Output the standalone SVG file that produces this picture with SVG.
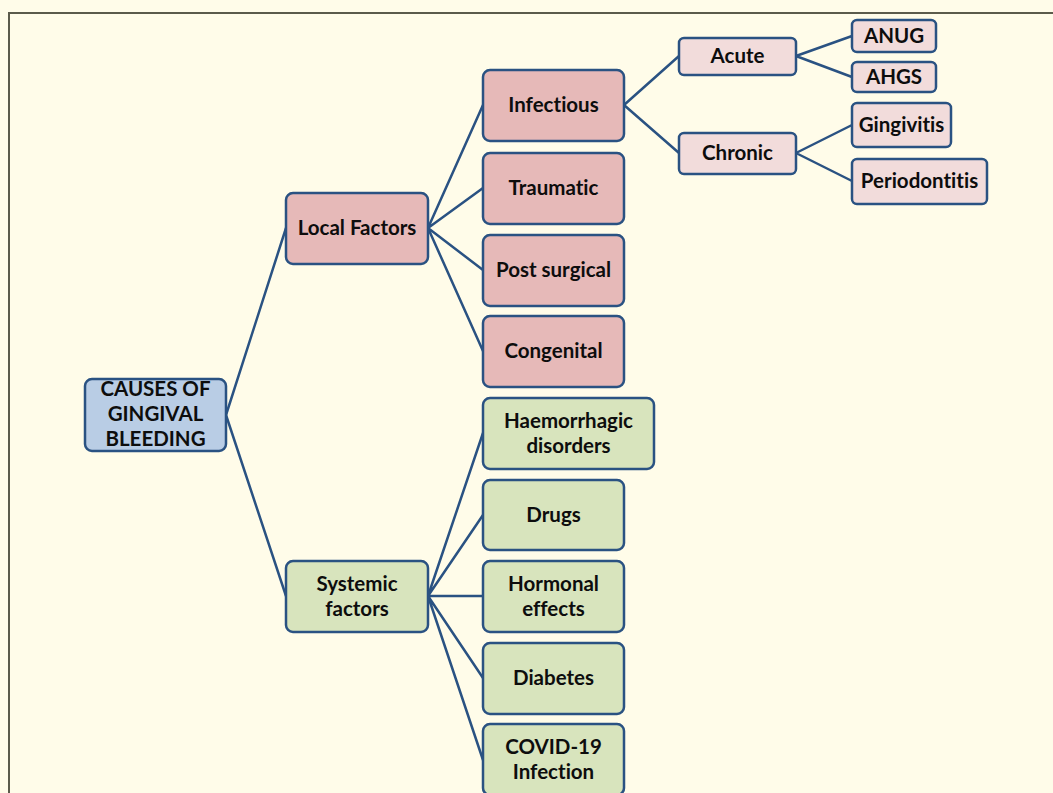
<svg xmlns="http://www.w3.org/2000/svg" width="1053" height="793" viewBox="0 0 1053 793">
<style>
.n rect{stroke:#2a5282;stroke-width:2.5}
.pink rect{fill:#e6b9b8}
.lpink rect{fill:#f2dcdb}
.green rect{fill:#d8e4bd}
.blue rect{fill:#b9cde5}
text{font-family:Lato,"Liberation Sans",sans-serif;font-weight:bold;font-size:20.5px;fill:#0d0d0d;text-anchor:middle;font-variant-ligatures:none;font-feature-settings:"liga" 0}
#connectors path{stroke:#2a5282;stroke-width:2.5;fill:none}
</style>
<rect x="0" y="0" width="1053" height="793" fill="#fffce9"/>
<path d="M9,793 V13 H1053" fill="none" stroke="#5b5b4b" stroke-width="2"/>
<g id="connectors">
<path d="M226,415 L286,228 M226,415 L286,596"/>
<path d="M428,228 L483,105 M428,228 L483,188 M428,228 L483,270 M428,228 L483,351"/>
<path d="M428,596 L483,433 M428,596 L483,515 M428,596 L483,596 M428,596 L483,678 M428,596 L483,760"/>
<path d="M624,105 L679,56 M624,105 L679,153"/>
<path d="M796,56 L852,36 M796,56 L852,77"/>
<path d="M796,153 L852,125 M796,153 L852,181"/>
</g>
<g id="root" class="n blue"><rect x="85" y="379" width="141" height="72" rx="7"/>
<text x="155.5" y="396">CAUSES OF</text><text x="155.5" y="421">GINGIVAL</text><text x="155.5" y="446">BLEEDING</text></g>
<g id="local" class="n pink"><rect x="286" y="193" width="142" height="71" rx="7"/><text x="357" y="235">Local Factors</text></g>
<g id="systemic" class="n green"><rect x="286" y="561" width="142" height="71" rx="7"/><text x="357" y="591">Systemic</text><text x="357" y="616">factors</text></g>
<g id="infectious" class="n pink"><rect x="483" y="70" width="141" height="71" rx="7"/><text x="553.5" y="112">Infectious</text></g>
<g id="traumatic" class="n pink"><rect x="483" y="153" width="141" height="71" rx="7"/><text x="553.5" y="195">Traumatic</text></g>
<g id="postsurgical" class="n pink"><rect x="483" y="235" width="141" height="71" rx="7"/><text x="553.5" y="277">Post surgical</text></g>
<g id="congenital" class="n pink"><rect x="483" y="316" width="141" height="71" rx="7"/><text x="553.5" y="358">Congenital</text></g>
<g id="haemorrhagic" class="n green"><rect x="483" y="398" width="171" height="71" rx="7"/><text x="568.5" y="428">Haemorrhagic</text><text x="568.5" y="453">disorders</text></g>
<g id="drugs" class="n green"><rect x="483" y="480" width="141" height="70" rx="7"/><text x="553.5" y="522">Drugs</text></g>
<g id="hormonal" class="n green"><rect x="483" y="561" width="141" height="71" rx="7"/><text x="553.5" y="591">Hormonal</text><text x="553.5" y="616">effects</text></g>
<g id="diabetes" class="n green"><rect x="483" y="643" width="141" height="71" rx="7"/><text x="553.5" y="685">Diabetes</text></g>
<g id="covid" class="n green"><rect x="483" y="724" width="141" height="71" rx="7"/><text x="553.5" y="754">COVID-19</text><text x="553.5" y="779">Infection</text></g>
<g id="acute" class="n lpink"><rect x="679" y="38" width="117" height="37" rx="5"/><text x="737.5" y="63">Acute</text></g>
<g id="chronic" class="n lpink"><rect x="679" y="133" width="117" height="41" rx="5"/><text x="737.5" y="160">Chronic</text></g>
<g id="anug" class="n lpink"><rect x="852" y="20" width="84" height="32" rx="5"/><text x="894" y="43">ANUG</text></g>
<g id="ahgs" class="n lpink"><rect x="852" y="62" width="84" height="30" rx="5"/><text x="894" y="84">AHGS</text></g>
<g id="gingivitis" class="n lpink"><rect x="852" y="103" width="99" height="44" rx="5"/><text x="901.5" y="132">Gingivitis</text></g>
<g id="periodontitis" class="n lpink"><rect x="852" y="159" width="135" height="45" rx="5"/><text x="919.5" y="188">Periodontitis</text></g>
</svg>
